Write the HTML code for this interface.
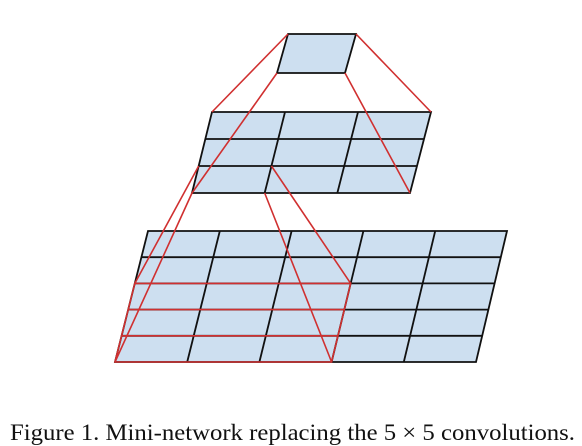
<!DOCTYPE html>
<html><head><meta charset="utf-8"><style>
html,body{margin:0;padding:0;background:#fff;}
svg{display:block;}
</style></head><body>
<svg width="582" height="446" viewBox="0 0 582 446" xmlns="http://www.w3.org/2000/svg">
<g id="grids"></g>
<g id="reds" stroke="#d03030" stroke-width="1.6" fill="none"></g>
<text x="10" y="440" font-family="Liberation Serif, serif" font-size="23" fill="#111" textLength="565" lengthAdjust="spacingAndGlyphs">Figure 1. Mini-network replacing the 5 × 5 convolutions.</text>
</svg>
<script>
const NS='http://www.w3.org/2000/svg';
const grids=document.getElementById('grids');
const reds=document.getElementById('reds');
function grid(name,ty,tlx,trx,by,blx,brx,cols,rows){
  const g=document.createElementNS(NS,'g');
  
  
  const p=(u,v)=>{const y=ty+(by-ty)*v;const l=tlx+(blx-tlx)*v,r=trx+(brx-trx)*v;return [l+(r-l)*u,y];};
  const poly=document.createElementNS(NS,'polygon');
  poly.setAttribute('points',[p(0,0),p(1,0),p(1,1),p(0,1)].map(a=>a.join(',')).join(' '));
  poly.setAttribute('fill','#cddff0');poly.setAttribute('stroke','#111');poly.setAttribute('stroke-width','1.8');
  g.appendChild(poly);
  for(let i=1;i<cols;i++){line(g,p(i/cols,0),p(i/cols,1),'#111');}
  for(let j=1;j<rows;j++){line(g,p(0,j/rows),p(1,j/rows),'#111');}
  grids.appendChild(g);
  return p;
}
function line(g,a,b,c){const l=document.createElementNS(NS,'line');l.setAttribute('x1',a[0]);l.setAttribute('y1',a[1]);l.setAttribute('x2',b[0]);l.setAttribute('y2',b[1]);if(c){l.setAttribute('stroke',c);l.setAttribute('stroke-width','1.8');}g.appendChild(l);return l;}
const pt=grid('top-unit',34,288,356,73,277,345,1,1);
const pm=grid('middle-3x3-layer',112,212,431,193,192,410,3,3);
const pb=grid('bottom-5x5-layer',231,148,507,362,115,476,5,5);
const box=document.createElementNS(NS,'polygon');


box.setAttribute('points',[pb(0,0.4),pb(0.6,0.4),pb(0.6,1),pb(0,1)].map(a=>a.join(',')).join(' '));
reds.appendChild(box);
const segs=[
 [pb(0,0.6),pb(0.6,0.6)],[pb(0,0.8),pb(0.6,0.8)],
 [pt(0,0),pm(0,0)],[pt(1,0),pm(1,0)],[pt(0,1),pm(0,1)],[pt(1,1),pm(1,1)],
 [pm(0,2/3),pb(0,0.4)],[pm(0,1),pb(0,1)],[pm(1/3,2/3),pb(0.6,0.4)],[pm(1/3,1),pb(0.6,1)]];
segs.forEach(s=>{
  const l=line(reds,s[0],s[1]);
  
  
});
</script>
</body></html>
